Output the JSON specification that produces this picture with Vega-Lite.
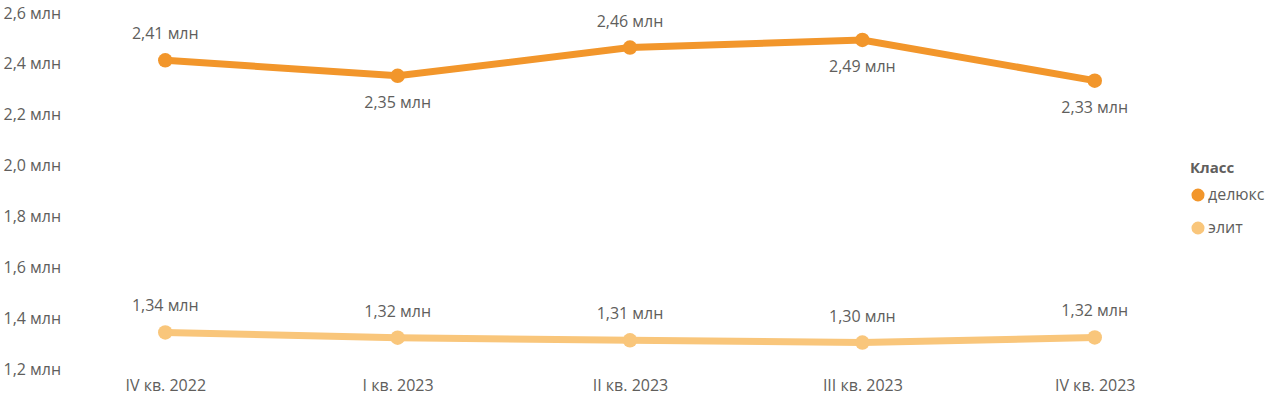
{
  "$schema": "https://vega.github.io/schema/vega-lite/v6.json",
  "autosize": {"type": "none"},
  "padding": {"left": 70, "top": 13, "right": 76, "bottom": 28},
  "width": 1120,
  "height": 356,
  "config": {
    "view": {"stroke": null},
    "font": "Open Sans",
    "text": {"font": "Open Sans"}
  },
  "data": {
    "values": [
      {"quarter": "IV кв. 2022", "klass": "делюкс", "value": 2.414},
      {"quarter": "I кв. 2023", "klass": "делюкс", "value": 2.353},
      {"quarter": "II кв. 2023", "klass": "делюкс", "value": 2.464},
      {"quarter": "III кв. 2023", "klass": "делюкс", "value": 2.494},
      {"quarter": "IV кв. 2023", "klass": "делюкс", "value": 2.334},
      {"quarter": "IV кв. 2022", "klass": "элит", "value": 1.344},
      {"quarter": "I кв. 2023", "klass": "элит", "value": 1.323},
      {"quarter": "II кв. 2023", "klass": "элит", "value": 1.313},
      {"quarter": "III кв. 2023", "klass": "элит", "value": 1.304},
      {"quarter": "IV кв. 2023", "klass": "элит", "value": 1.324}
    ]
  },
  "encoding": {
    "x": {
      "field": "quarter", "type": "ordinal", "sort": null,
      "scale": {"type": "point", "padding": 0.41},
      "axis": {"title": null, "domain": false, "ticks": false, "tickSize": 0, "labelAngle": 0, "labelPadding": 8, "labelFontSize": 16, "labelColor": "#605E5C", "labelFont": "Open Sans", "grid": false}
    },
    "y": {
      "field": "value", "type": "quantitative",
      "scale": {"domain": [1.2, 2.6], "nice": false, "zero": false},
      "axis": {"title": null, "domain": false, "ticks": false, "tickSize": 0, "grid": false, "values": [1.2, 1.4, 1.6, 1.8, 2.0, 2.2, 2.4, 2.6], "labelExpr": "replace(format(datum.value, '.1f'), '.', ',') + ' млн'", "labelAlign": "left", "labelPadding": 67, "labelFontSize": 16, "labelColor": "#605E5C", "labelFont": "Open Sans"}
    },
    "color": {
      "field": "klass", "type": "nominal",
      "scale": {"domain": ["делюкс", "элит"], "range": ["#F2962B", "#F9C67B"]},
      "legend": {"title": "Класс", "orient": "none", "legendX": 1120, "legendY": 148, "titleFontSize": 15, "titleFontWeight": "bold", "titleColor": "#605E5C", "titleFont": "Open Sans", "labelFontSize": 16, "labelColor": "#605E5C", "labelFont": "Open Sans", "symbolType": "circle", "symbolSize": 170, "symbolStrokeWidth": 0, "rowPadding": 17, "titlePadding": 11, "labelOffset": 2}
    }
  },
  "layer": [
    {"mark": {"type": "line", "strokeWidth": 7, "strokeCap": "round"}},
    {"mark": {"type": "point", "filled": true, "size": 210, "opacity": 1}},
    {
      "mark": {"type": "text", "dy": -26, "fontSize": 16, "font": "Open Sans"},
      "encoding": {"text": {"field": "lbl"}, "color": {"value": "#605E5C"}},
      "transform": [
        {"filter": "datum.klass == 'элит' || datum.quarter == 'IV кв. 2022' || datum.quarter == 'II кв. 2023'"},
        {"calculate": "replace(format(datum.value, '.2f'), '.', ',') + ' млн'", "as": "lbl"}
      ]
    },
    {
      "mark": {"type": "text", "dy": 27, "fontSize": 16, "font": "Open Sans"},
      "encoding": {"text": {"field": "lbl"}, "color": {"value": "#605E5C"}},
      "transform": [
        {"filter": "datum.klass == 'делюкс' && datum.quarter != 'IV кв. 2022' && datum.quarter != 'II кв. 2023'"},
        {"calculate": "replace(format(datum.value, '.2f'), '.', ',') + ' млн'", "as": "lbl"}
      ]
    }
  ]
}
